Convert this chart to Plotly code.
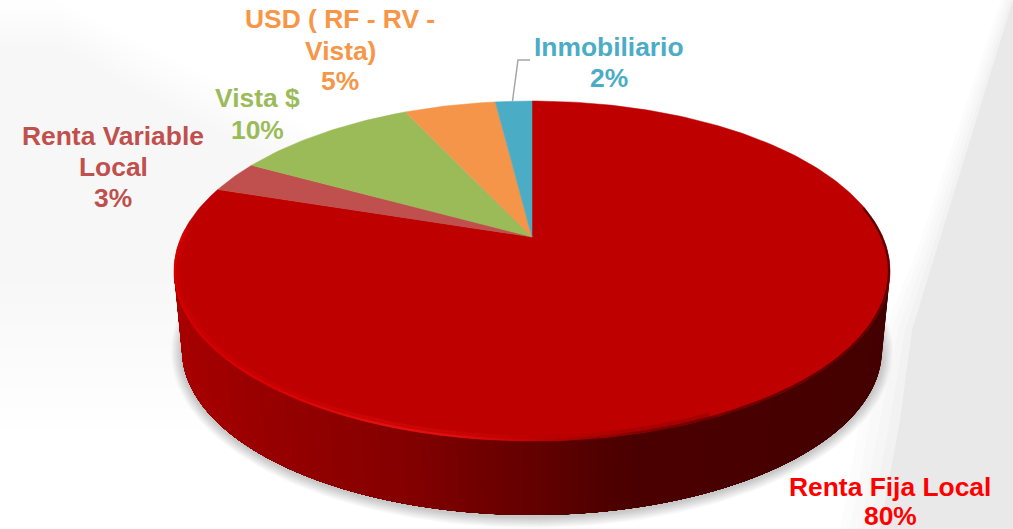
import numpy as np
import plotly.graph_objects as go

categories = ["Renta Fija Local", "Renta Variable Local", "Vista $", "USD ( RF - RV - Vista)", "Inmobiliario"]
values = [80, 3, 10, 5, 2]
slice_colors = ["#BE0000", "#C0504D", "#9BBB59", "#F4954A", "#4BACC6"]
text_colors = ["#FF0000", "#C0504D", "#9BBB59", "#F79646", "#4BACC6"]
label_lines = [
    ["Renta Fija Local", "80%"],
    ["Renta Variable", "Local", "3%"],
    ["Vista $", "10%"],
    ["USD ( RF - RV -", "Vista)", "5%"],
    ["Inmobiliario", "2%"],
]
label_x = [890, 113, 257, 340, 609]
label_y = [[487, 516], [136, 167, 198], [98, 130], [19, 51, 81], [47, 78]]

W, H = 1013, 529
APEX_X, APEX_Y = 532, 237
R, A, K = 350.8, 163.2, 0.2
TOP_CY, TOP_RX, TOP_RY = 271, 358, 170
BOT_CY, BOT_RX, BOT_RY = 350, 350, 165


def project(theta):
    w = 1 + K * np.cos(theta)
    return APEX_X + R * np.sin(theta) / w, APEX_Y - A * np.cos(theta) / w


def lerp_color(x, stops):
    xs = [s[0] for s in stops]
    rgb = [np.interp(x, xs, [int(s[1][i:i + 2], 16) for s in stops]) for i in (1, 3, 5)]
    return "rgb(%d,%d,%d)" % tuple(int(round(v)) for v in rgb)


fig = go.Figure()


def poly(xs, ys, color, opacity=1.0):
    fig.add_trace(go.Scatter(
        x=list(xs), y=list(ys), mode="lines", fill="toself", fillcolor=color, opacity=opacity,
        line=dict(color=color, width=0), hoverinfo="skip", showlegend=False))


# soft background panels
for grow, col, alpha in [(40, "#e9e9e9", 0.12), (30, "#e9e9e9", 0.15), (20, "#e9e9e9", 0.2), (10, "#e9e9e9", 0.3)]:
    poly([1013 - grow * 0.3, 937 - grow * 0.5, 912 - grow * 0.7, 900 - grow, 880 - grow, 1013, 1013],
         [0, 250, 330, 420, 529, 529, 0], col, alpha)
poly([1013, 937, 912, 900, 880, 1013], [0, 250, 330, 420, 529, 529], "#e9e9e9")
for i in range(8):
    g = i * 7
    poly([0, 55 + g * 0.2, 170, 300, 360, 360 - g * 2, 0],
         [g, g, 58 + g, 122 + g, 175 + g, 430 - g * 3, 430 - g * 3], "#000000", 0.005)

# drop shadow below the disc
t_all = np.linspace(0, 2 * np.pi, 200)
for g in range(11, 0, -1):
    poly(532 + (BOT_RX + g) * np.cos(t_all), BOT_CY + 2 + (BOT_RY + g) * np.sin(t_all), "#000000", 0.02)

# disc side, graded left to right; every strip runs under its neighbour so no seams show
side_stops = [(173, "#A80000"), (280, "#950000"), (400, "#850000"), (480, "#700000"),
              (532, "#640000"), (620, "#4C0000"), (890, "#440000")]
ts = np.linspace(0, np.pi, 121)
for t0, t1 in zip(ts[:-1], ts[1:]):
    tt = np.linspace(t0, np.pi, 40)
    tx = 532 + TOP_RX * np.cos(tt)
    ty = TOP_CY + TOP_RY * np.sin(tt)
    bx = 532 + BOT_RX * np.cos(tt[::-1])
    by = BOT_CY + BOT_RY * np.sin(tt[::-1])
    mid = 532 + TOP_RX * np.cos((t0 + t1) / 2)
    poly(list(tx) + list(bx), list(ty) + list(by), lerp_color(mid, side_stops))

# top face slices, from the values
total = sum(values)
start = 0.0
for val, col, name in zip(values, slice_colors, categories):
    end = start + val / total * 2 * np.pi
    th = np.linspace(start, end, max(4, int(val * 4)))
    px, py = project(th)
    fig.add_trace(go.Scatter(
        x=[APEX_X] + list(px) + [APEX_X], y=[APEX_Y] + list(py) + [APEX_Y],
        mode="lines", fill="toself", fillcolor=col, line=dict(color=col, width=0.5),
        name=name, text="%s %d%%" % (name, val), hoverinfo="text", showlegend=False))
    start = end

# bevel rim on the disc edge: a wide faint pass on the lit side, a narrow pass all along
rim_stops = [(173, "#D80000"), (300, "#DE0606"), (380, "#E81414"), (450, "#E41212"), (520, "#C80404"),
             (575, "#A80000"), (640, "#7C0000"), (740, "#600000"), (890, "#4A0000")]
for deg0, deg1, width, alpha, inset in [(60, 194, 6, 0.3, 3.0), (-22, 194, 2.2, 0.85, 1.0)]:
    rim_t = np.radians(np.linspace(deg0, deg1, int((deg1 - deg0) * 0.6)))
    for t0, t1 in zip(rim_t[:-1], rim_t[1:]):
        tt = np.array([t0, t1 + 0.002])
        xs = 532 + (TOP_RX - inset) * np.cos(tt)
        ys = TOP_CY + (TOP_RY - inset) * np.sin(tt)
        fig.add_trace(go.Scatter(x=list(xs), y=list(ys), mode="lines", hoverinfo="skip", showlegend=False,
                                 opacity=alpha, line=dict(color=lerp_color(xs.mean(), rim_stops), width=width)))

# leader line for Inmobiliario
leader_x = [512.5, 518, 530]
leader_y = [101, 60, 60]
fig.add_trace(go.Scatter(x=leader_x, y=leader_y, mode="lines", hoverinfo="skip", showlegend=False,
                         line=dict(color="#A6A6A6", width=1.5)))

annotations = []
for lines, lx, lys, col in zip(label_lines, label_x, label_y, text_colors):
    for s, ly in zip(lines, lys):
        annotations.append(dict(x=lx, y=ly, text="<b>%s</b>" % s, showarrow=False, xanchor="center", yanchor="middle",
                                font=dict(family="Liberation Sans", size=26.4, color=col)))

fig.update_layout(
    width=W, height=H, margin=dict(l=0, r=0, t=0, b=0), showlegend=False,
    paper_bgcolor="white", plot_bgcolor="white", annotations=annotations,
    xaxis=dict(range=[0, W], visible=False, fixedrange=True),
    yaxis=dict(range=[H, 0], visible=False, fixedrange=True),
)
fig.write_html("out.html", config={"displayModeBar": False},
               post_script="document.body.style.margin='0';document.body.style.overflow='hidden';")
